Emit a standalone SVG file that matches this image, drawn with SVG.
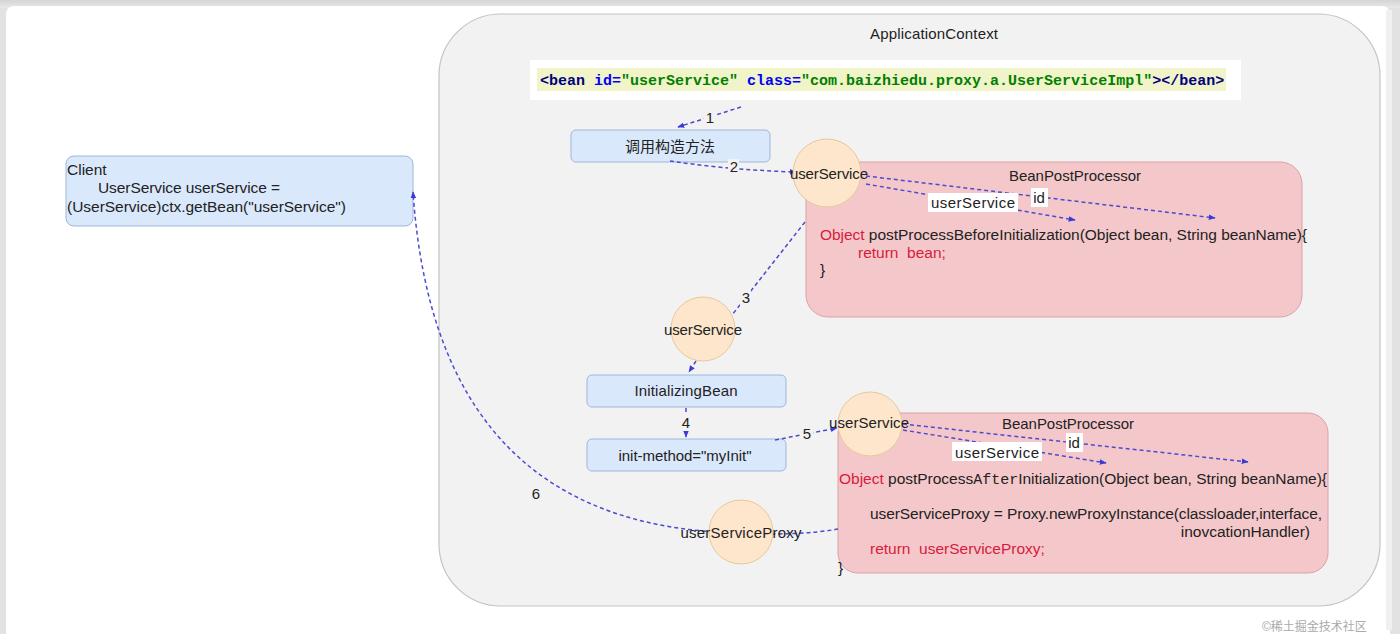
<svg xmlns="http://www.w3.org/2000/svg" width="1400" height="634" viewBox="0 0 1400 634">
<defs>
<marker id="ah" viewBox="0 0 10 10" refX="9" refY="5" markerWidth="7" markerHeight="7" orient="auto" markerUnits="userSpaceOnUse"><path d="M0,1 L10,5 L0,9 z" fill="#3a3ad6"/></marker>
<linearGradient id="topg" x1="0" y1="0" x2="0" y2="1"><stop offset="0" stop-color="#d4d4d4"/><stop offset="1" stop-color="#e8e8e8"/></linearGradient>
</defs>
<style>
text{font-family:"Liberation Sans",Arial,sans-serif;font-size:15px;fill:#222}
.c{text-anchor:middle}
.red{fill:#d81b3c}
.code{font-size:15.5px}
.mono{font-family:"Liberation Mono","Courier New",monospace;font-size:15px;font-weight:bold}
.box{fill:#dae8fc;stroke:#9fb6d9;stroke-width:1}
.circ{fill:#fde6cc;stroke:#e7c89a;stroke-width:1}
.pp{fill:#f4c8cb;stroke:#dca0a6;stroke-width:1}
.ed{fill:none;stroke:#4b4bd0;stroke-width:1.5;stroke-dasharray:4 3}
.lbl{fill:#fff}
.nbg{fill:#f2f2f2}
.num{font-size:15px;text-anchor:middle}
</style>
<rect x="0" y="0" width="1400" height="634" fill="#e2e2e2"/>
<rect x="0" y="0" width="1400" height="8" fill="url(#topg)"/>
<rect x="6" y="6" width="1384" height="640" rx="8" fill="#ffffff"/>
<rect x="1386" y="10" width="6" height="620" fill="#f0f0f0"/>
<g id="appctx">
<rect x="439" y="14" width="941" height="592" rx="62" fill="#f2f2f2" stroke="#c4c4c4" stroke-width="1.2"/>
<text x="934" y="39" class="c" textLength="128">ApplicationContext</text>
</g>
<g id="beandef">
<rect x="530" y="60" width="711" height="40" fill="#ffffff"/>
<rect x="537" y="68" width="689" height="23" fill="#f1f3c8"/>
<text x="540" y="85" class="mono"><tspan fill="#000080">&lt;bean </tspan><tspan fill="#0000ff">id=</tspan><tspan fill="#008000">"userService" </tspan><tspan fill="#0000ff">class=</tspan><tspan fill="#008000">"com.baizhiedu.proxy.a.UserServiceImpl"</tspan><tspan fill="#000080">&gt;&lt;/bean&gt;</tspan></text>
</g>
<g id="client">
<rect class="box" x="66" y="156" width="347" height="70" rx="8"/>
<text x="67" y="175" class="code">Client</text>
<text x="98" y="193" class="code" textLength="182">UserService userService =</text>
<text x="67" y="212" class="code" textLength="279">(UserService)ctx.getBean("userService")</text>
</g>
<g id="ctor">
<rect class="box" x="571" y="130" width="199" height="32" rx="5"/>
<text x="670" y="152" class="c" style="font-family:'Liberation Sans','Noto Sans CJK SC',sans-serif">调用构造方法</text>
</g>
<g id="bpp1">
<rect class="pp" x="806" y="162" width="496" height="155" rx="22"/>
<text x="1075" y="181" class="c" textLength="132">BeanPostProcessor</text>
<text x="820" y="240" class="code" textLength="487"><tspan class="red">Object</tspan> postProcessBeforeInitialization(Object bean, String beanName){</text>
<text x="858" y="258" class="code red">return&#160; bean;</text>
<text x="820" y="275" class="code">}</text>
</g>
<g id="bpp2">
<rect class="pp" x="838" y="413" width="490" height="160" rx="20"/>
<text x="1068" y="429" class="c" textLength="132">BeanPostProcessor</text>
<text x="839" y="484" class="code" textLength="488"><tspan class="red">Object</tspan> postProcess<tspan style="font-family:'Liberation Mono',monospace;font-size:15px">After</tspan>Initialization(Object bean, String beanName){</text>
<text x="870" y="519" class="code" textLength="452">userServiceProxy = Proxy.newProxyInstance(classloader,interface,</text>
<text x="1310" y="537" class="code" text-anchor="end">inovcationHandler)</text>
<text x="870" y="554" class="code red">return&#160; userServiceProxy;</text>
<text x="838" y="573" class="code">}</text>
</g>
<g id="initbean">
<rect class="box" x="587" y="375" width="199" height="32" rx="5"/>
<text x="686" y="396" class="c" textLength="103">InitializingBean</text>
</g>
<g id="initmethod">
<rect class="box" x="587" y="439" width="199" height="32" rx="5"/>
<text x="685" y="461" class="c" textLength="133">init-method="myInit"</text>
</g>
<g id="connectors">
<path class="ed" d="M741,107 L678,127" marker-end="url(#ah)"/>
<path class="ed" d="M670,161 Q730,170 796,172" marker-end="url(#ah)"/>
<path class="ed" d="M866,176 L1215,218" marker-end="url(#ah)"/>
<path class="ed" d="M866,184 L1075,220" marker-end="url(#ah)"/>
<path class="ed" d="M805,222 L732,315"/>
<path class="ed" d="M696,361 L689,372" marker-end="url(#ah)"/>
<path class="ed" d="M686,408 L686,437" marker-end="url(#ah)"/>
<path class="ed" d="M775,440 L837,428" marker-end="url(#ah)"/>
<path class="ed" d="M903,424 L1248,462" marker-end="url(#ah)"/>
<path class="ed" d="M903,430 L1106,463" marker-end="url(#ah)"/>
<path class="ed" d="M838,529 Q800,536 741,533"/>
<path class="ed" d="M741,533 C560,530 430,440 413,192" marker-end="url(#ah)"/>
</g>
<g id="circle1">
<circle class="circ" cx="827" cy="173" r="34"/>
<text x="829" y="179" class="c" textLength="78">userService</text>
</g>
<g id="circle2">
<circle class="circ" cx="703" cy="329" r="32"/>
<text x="703" y="335" class="c" textLength="78">userService</text>
</g>
<g id="circle3">
<circle class="circ" cx="870" cy="424" r="32"/>
<text x="869" y="428" class="c" textLength="80">userService</text>
</g>
<g id="circle4">
<circle class="circ" cx="741" cy="532" r="32"/>
<text x="741" y="538" class="c" textLength="121">userServiceProxy</text>
</g>
<g id="labels">
<rect class="lbl" x="928" y="193" width="90" height="19"/>
<text x="973" y="208" class="c" textLength="84">userService</text>
<rect class="lbl" x="1031" y="188" width="17" height="19"/>
<text x="1039" y="203" class="c">id</text>
<rect class="lbl" x="952" y="442" width="90" height="19"/>
<text x="997" y="458" class="c" textLength="84">userService</text>
<rect class="lbl" x="1066" y="433" width="17" height="19"/>
<text x="1074" y="448" class="c">id</text>
<rect class="nbg" x="704" y="110" width="11" height="16"/>
<text x="710" y="123" class="num">1</text>
<rect class="nbg" x="728" y="159" width="11" height="16"/>
<text x="734" y="172" class="num">2</text>
<rect class="nbg" x="740" y="290" width="11" height="16"/>
<text x="746" y="303" class="num">3</text>
<rect class="nbg" x="680" y="415" width="12" height="16"/>
<text x="686" y="428" class="num">4</text>
<rect class="nbg" x="801" y="426" width="12" height="16"/>
<text x="807" y="439" class="num">5</text>
<text x="536" y="499" class="num">6</text>
</g>
<text x="1262" y="631" style="fill:#aaa;font-family:'Liberation Sans','Noto Sans CJK SC',sans-serif;font-size:12px">©稀土掘金技术社区</text>
</svg>
